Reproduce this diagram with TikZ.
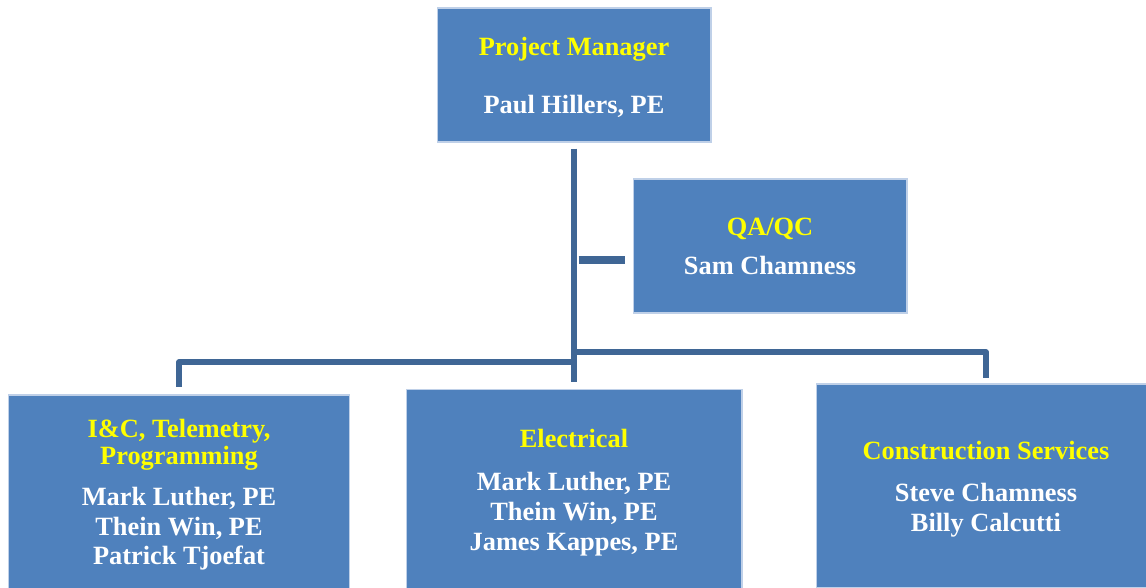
\documentclass[tikz,border=0pt]{standalone}
\usepackage{fontspec}
\setmainfont{Liberation Serif}
\definecolor{boxblue}{HTML}{4F81BD}
\definecolor{boxedge}{HTML}{BFD0E8}
\definecolor{linkblue}{HTML}{3F6695}
\definecolor{headyellow}{HTML}{FFFF00}
\newcommand\head[1]{\textcolor{headyellow}{#1}}
\newcommand\lastname[1]{\raisebox{0pt}[\height][0pt]{#1}}

\begin{document}
\begin{tikzpicture}[x=0.02cm, y=-0.02cm, font=\fontsize{15}{17}\selectfont\bfseries,
	unit/.style={draw=boxedge, line width=0.6pt, fill=boxblue, text=white, align=center, inner sep=0pt},
	link/.style={draw=linkblue, line width=3.1pt, line join=round},
	stub/.style={draw=linkblue, line width=4pt}]
	\useasboundingbox (0,0) rectangle (1146,588);
	% boxes
	\node[unit, minimum width=5.48cm, minimum height=2.68cm] (pm) at (574,75) {\head{Project Manager}\\[0.56cm] \lastname{Paul Hillers, PE}};
	\node[unit, minimum width=5.48cm, minimum height=2.68cm] (qa) at (770,246) {\head{QA/QC}\\[0.18cm] \lastname{Sam Chamness}};
	\node[unit, minimum width=6.84cm, minimum height=3.88cm] (ics) at (179,492) {\head{I\&C, Telemetry,}\\[-0.06cm] \head{Programming}\\[0.22cm] Mark Luther, PE\\ Thein Win, PE\\ \lastname{Patrick Tjoefat}};
	\node[unit, minimum width=6.72cm, minimum height=4.02cm] (el) at (574,490) {\head{Electrical}\\[0.26cm] Mark Luther, PE\\ Thein Win, PE\\ \lastname{James Kappes, PE}};
	\node[unit, minimum width=6.8cm, minimum height=4.08cm] (cs) at (986,486) {\head{Construction Services}\\[0.24cm] Steve Chamness\\ \lastname{Billy Calcutti}};
	% connectors
	\draw[link] ([shift={(0,6)}]pm.south) -- ([shift={(0,-7)}]el.north);
	\draw[stub] ([shift={(-54,14)}]qa.west) -- ([shift={(-8,14)}]qa.west);
	\draw[link] (574,362) -| ([shift={(0,-7)}]ics.north);
	\draw[link] (574,352) -| ([shift={(0,-5)}]cs.north);
\end{tikzpicture}
\end{document}
